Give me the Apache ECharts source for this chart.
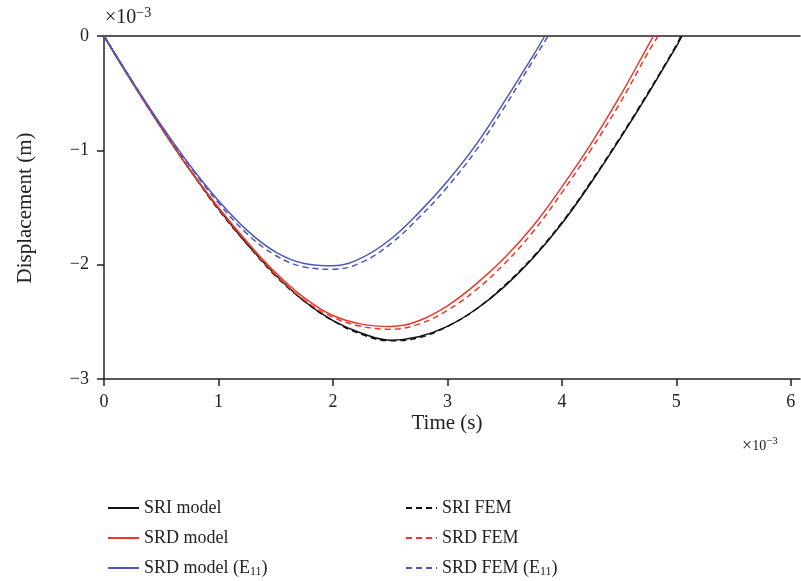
<!DOCTYPE html>
<html>
<head>
<meta charset="utf-8">
<script src="https://cdn.jsdelivr.net/npm/echarts@6/dist/echarts.min.js"></script>
<style>
html,body{margin:0;padding:0;background:#fff;}
#chart{width:801px;height:581px;}
</style>
</head>
<body>
<div id="chart"></div>
<script>
// Time (×10^-3 s) and displacement (×10^-3 m)
var tSRIModel = [0,0.25,0.5,0.75,1.0,1.25,1.5,1.75,2.0,2.25,2.5,2.75,3.0,3.25,3.5,3.75,4.0,4.25,4.5,4.75,5.0,5.05];
var vSRIModel = [0,-0.41,-0.80,-1.17,-1.51,-1.82,-2.09,-2.32,-2.49,-2.60,-2.66,-2.63,-2.54,-2.39,-2.19,-1.94,-1.64,-1.29,-0.91,-0.51,-0.09,0];

var tSRIFEM = [0,0.25,0.5,0.75,1.0,1.25,1.5,1.75,2.0,2.25,2.5,2.75,3.0,3.25,3.5,3.75,4.0,4.25,4.5,4.75,5.0,5.04];
var vSRIFEM = [0,-0.41,-0.80,-1.17,-1.52,-1.82,-2.10,-2.32,-2.49,-2.61,-2.665,-2.64,-2.54,-2.39,-2.18,-1.93,-1.63,-1.28,-0.90,-0.50,-0.08,0];

var tSRDModel = [0,0.25,0.5,0.75,1.0,1.25,1.5,1.75,2.0,2.25,2.5,2.75,3.0,3.25,3.5,3.75,4.0,4.25,4.5,4.75,4.80];
var vSRDModel = [0,-0.41,-0.80,-1.17,-1.50,-1.80,-2.07,-2.29,-2.445,-2.52,-2.54,-2.49,-2.36,-2.17,-1.94,-1.66,-1.32,-0.95,-0.54,-0.09,0];

var tSRDFEM = [0,0.25,0.5,0.75,1.0,1.25,1.5,1.75,2.0,2.25,2.5,2.75,3.0,3.25,3.5,3.75,4.0,4.25,4.5,4.75,4.84];
var vSRDFEM = [0,-0.41,-0.80,-1.17,-1.51,-1.81,-2.09,-2.31,-2.46,-2.54,-2.565,-2.52,-2.40,-2.22,-1.99,-1.71,-1.37,-1.00,-0.60,-0.15,0];

var tSRDModelE11 = [0,0.25,0.5,0.75,1.0,1.25,1.5,1.75,2.0,2.25,2.5,2.75,3.0,3.25,3.5,3.75,3.85];
var vSRDModelE11 = [0,-0.40,-0.78,-1.13,-1.44,-1.70,-1.89,-1.99,-2.01,-1.94,-1.78,-1.545,-1.27,-0.95,-0.57,-0.17,0];

var tSRDFEME11 = [0,0.25,0.5,0.75,1.0,1.25,1.5,1.75,2.0,2.25,2.5,2.75,3.0,3.25,3.5,3.75,3.88];
var vSRDFEME11 = [0,-0.40,-0.79,-1.14,-1.46,-1.73,-1.92,-2.02,-2.04,-1.98,-1.82,-1.59,-1.32,-1.00,-0.62,-0.21,0];

var xTicks = [0,1,2,3,4,5,6];

function pairs(t, v){ return t.map(function(x,i){ return [x, v[i]]; }); }

var FONT = '"Liberation Serif", "DejaVu Serif", serif';
var INK = '#222222';
var BLACK = '#111111', RED = '#e8392c', BLUE = '#4d58b8';

function mkSeries(name, t, v, color, dashed){
  return {
    name: name, type: 'line', data: pairs(t, v), smooth: 0.4,
    showSymbol: false, symbol: 'none',
    lineStyle: {color: color, width: 1.5, type: dashed ? [6,4] : 'solid'},
    itemStyle: {color: color}
  };
}

var chart = echarts.init(document.getElementById('chart'));
function mkLegend(left, names){
  return {
    orient: 'vertical', left: left, top: 493, height: 120,
    itemWidth: 31, itemHeight: 14, itemGap: 10,
    itemStyle: {opacity: 0},
    textStyle: {fontFamily: FONT, fontSize: 18, color: INK, lineHeight: 20,
      rich: {sub: {fontFamily: FONT, fontSize: 12, color: INK, lineHeight: 13, verticalAlign: 'bottom'},
             n: {fontFamily: FONT, fontSize: 18, color: INK, lineHeight: 20}}},
    formatter: function(name){
      return name.replace(' (E11)', ' (E{sub|11}{n|)}');
    },
    data: names
  };
}
chart.setOption({
  animation: false,
  grid: {left: 104, top: 36, right: 1, height: 343},
  xAxis: [{
    type: 'value', min: 0, max: 6.08, interval: 1, position: 'bottom',
    axisLine: {show: true, onZero: false, lineStyle: {color: INK, width: 1.5}},
    axisTick: {show: true, inside: false, length: 7, lineStyle: {color: INK, width: 1.5},
      customValues: xTicks},
    axisLabel: {fontFamily: FONT, fontSize: 18, color: INK, margin: 14,
      customValues: xTicks, formatter: function(v){ return String(v); }},
    splitLine: {show: false}
  },{
    type: 'value', min: 0, max: 6.08, position: 'top',
    axisLine: {show: true, onZero: false, lineStyle: {color: INK, width: 1.5}},
    axisTick: {show: false}, axisLabel: {show: false}, splitLine: {show: false}
  }],
  yAxis: {
    type: 'value', min: -3, max: 0, interval: 1,
    axisLine: {show: true, onZero: false, lineStyle: {color: INK, width: 1.5}},
    axisTick: {show: true, length: 7, lineStyle: {color: INK, width: 1.5}},
    axisLabel: {fontFamily: FONT, fontSize: 18, color: INK, margin: 15,
      formatter: function(v){ return v < 0 ? '\u2212' + Math.abs(v) : String(v); }},
    splitLine: {show: false}
  },
  legend: [
    mkLegend(102, ['SRI model','SRD model','SRD model (E11)']),
    mkLegend(400, ['SRI FEM','SRD FEM','SRD FEM (E11)'])
  ],
  graphic: [
    {type: 'text', x: 105, y: 6, style: {text: '\u00d710{sup|\u22123}', font: '20px ' + FONT, fill: INK,
      rich: {sup: {fontFamily: FONT, fontSize: 14, fill: INK, padding: [0,0,10,0]}}}},
    {type: 'text', x: 742, y: 436, style: {text: '\u00d7{s|10}{sup|\u22123}', font: '18px ' + FONT, fill: INK,
      rich: {s: {fontFamily: FONT, fontSize: 14, fill: INK}, sup: {fontFamily: FONT, fontSize: 11, fill: INK, padding: [0,0,10,0]}}}},
    {type: 'text', x: 447, y: 423, style: {text: 'Time (s)', font: '21px ' + FONT, fill: INK, textAlign: 'center', textVerticalAlign: 'middle'}},
    {type: 'text', x: 25, y: 208, rotation: Math.PI/2, style: {text: 'Displacement (m)', font: '21px ' + FONT, fill: INK, textAlign: 'center', textVerticalAlign: 'middle'}}
  ],
  series: [
    mkSeries('SRI model', tSRIModel, vSRIModel, BLACK, false),
    mkSeries('SRI FEM', tSRIFEM, vSRIFEM, BLACK, true),
    mkSeries('SRD model', tSRDModel, vSRDModel, RED, false),
    mkSeries('SRD FEM', tSRDFEM, vSRDFEM, RED, true),
    mkSeries('SRD model (E11)', tSRDModelE11, vSRDModelE11, BLUE, false),
    mkSeries('SRD FEM (E11)', tSRDFEME11, vSRDFEME11, BLUE, true)
  ]
});
</script>
</body>
</html>
